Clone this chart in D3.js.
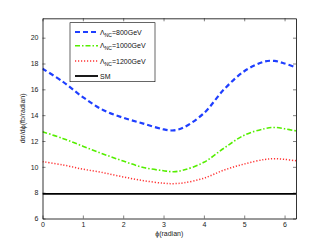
<!DOCTYPE html>
<html>
<head>
<meta charset="utf-8">
<script src="https://cdn.jsdelivr.net/npm/d3@7"></script>
<style>
  body { margin: 0; background: #fff; }
  text { font-family: "Liberation Sans", Arial, sans-serif; }
</style>
</head>
<body>
<div id="chart"></div>
<script>
var phi = [0, 0.5, 1, 1.5, 2, 2.5, 3, 3.25, 3.5, 4, 4.5, 5, 5.5, 5.75, 6, 6.283];
var nc800 = [17.6, 16.6, 15.4, 14.4, 13.8, 13.35, 12.9, 12.82, 13.05, 14.15, 16.0, 17.4, 18.15, 18.2, 18.0, 17.7];
var nc1000 = [12.72, 12.2, 11.6, 11.0, 10.45, 9.95, 9.7, 9.62, 9.75, 10.35, 11.45, 12.45, 12.95, 13.05, 12.95, 12.78];
var nc1200 = [10.4, 10.15, 9.82, 9.55, 9.22, 8.93, 8.73, 8.7, 8.76, 9.12, 9.75, 10.22, 10.57, 10.63, 10.58, 10.47];
var sm = [7.9, 7.9, 7.9, 7.9, 7.9, 7.9, 7.9, 7.9, 7.9, 7.9, 7.9, 7.9, 7.9, 7.9, 7.9, 7.9];
var xTicks = [0, 1, 2, 3, 4, 5, 6];
var yTicks = [6, 8, 10, 12, 14, 16, 18, 20];

var series = [
  {name: "800GeV", values: nc800, color: "#1f3fff", dash: "5,3", width: 2.2, nc: true},
  {name: "1000GeV", values: nc1000, color: "#55ee00", dash: "5,2,1.5,2", width: 1.6, nc: true},
  {name: "1200GeV", values: nc1200, color: "#ff3333", dash: "1.2,1.8", width: 1.5, nc: true},
  {name: "SM", values: sm, color: "#000", dash: null, width: 1.8, nc: false}
];

var width = 327, height = 246;
var mLeft = 42.5, mRight = 296, mTop = 18.3, mBottom = 218.5;

var x = d3.scaleLinear().domain([0, 2 * Math.PI]).range([mLeft, mRight]);
var y = d3.scaleLinear().domain([6, 21.5]).range([mBottom, mTop]);

var svg = d3.select("#chart").append("svg")
  .attr("width", width)
  .attr("height", height);

/* lines */
var line = d3.line()
  .x((d, i) => x(phi[i]))
  .y(d => y(d))
  .curve(d3.curveCatmullRom);

svg.append("defs").append("clipPath").attr("id", "clip")
  .append("rect").attr("x", mLeft).attr("y", mTop)
  .attr("width", mRight - mLeft).attr("height", mBottom - mTop);

svg.append("g").attr("clip-path", "url(#clip)")
  .selectAll("path")
  .data(series).enter()
  .append("path")
  .attr("d", d => line(d.values))
  .attr("fill", "none")
  .attr("stroke", d => d.color)
  .attr("stroke-width", d => d.width)
  .attr("stroke-dasharray", d => d.dash);

/* axes, matlab style: inward ticks on all four sides */
var tick = 3;
var fmt = d3.format("d");
svg.append("g")
  .attr("transform", `translate(0, ${mBottom})`)
  .call(d3.axisBottom(x).tickValues(xTicks).tickSizeInner(-tick).tickSizeOuter(0).tickPadding(4).tickFormat(fmt))
  .call(g => g.selectAll("text").attr("font-size", 7).attr("fill", "#222"));
svg.append("g")
  .attr("transform", `translate(0, ${mTop})`)
  .call(d3.axisTop(x).tickValues(xTicks).tickSizeInner(-tick).tickSizeOuter(0).tickFormat(""));
svg.append("g")
  .attr("transform", `translate(${mLeft}, 0)`)
  .call(d3.axisLeft(y).tickValues(yTicks).tickSizeInner(-tick).tickSizeOuter(0).tickPadding(4).tickFormat(fmt))
  .call(g => g.selectAll("text").attr("font-size", 7).attr("fill", "#222"));
svg.append("g")
  .attr("transform", `translate(${mRight}, 0)`)
  .call(d3.axisRight(y).tickValues(yTicks).tickSizeInner(-tick).tickSizeOuter(0).tickFormat(""));

svg.selectAll(".domain").attr("stroke", "#000").attr("stroke-width", 0.8);
svg.selectAll(".tick line").attr("stroke", "#000").attr("stroke-width", 0.5);

/* axis labels */
svg.append("text")
  .attr("x", (mLeft + mRight) / 2)
  .attr("y", 236)
  .attr("text-anchor", "middle")
  .attr("font-size", 7)
  .attr("fill", "#222")
  .text("\u03d5(radian)");

svg.append("text")
  .attr("transform", `translate(25, ${(mTop + mBottom) / 2}) rotate(-90)`)
  .attr("text-anchor", "middle")
  .attr("font-size", 7)
  .attr("fill", "#222")
  .text("d\u03c3/d\u03d5(fb/radian)");

/* legend */
var legend = svg.append("g");
legend.append("rect")
  .attr("x", 70).attr("y", 22.7)
  .attr("width", 85).attr("height", 59)
  .attr("fill", "#fff")
  .attr("stroke", "#000")
  .attr("stroke-width", 0.6);

var rowY = [32, 45.7, 61, 76];
var items = legend.selectAll(".item")
  .data(series).enter()
  .append("g")
  .attr("transform", (d, i) => `translate(0, ${rowY[i]})`);

items.append("line")
  .attr("x1", 75).attr("x2", 98)
  .attr("stroke", d => d.color)
  .attr("stroke-width", d => d.width)
  .attr("stroke-dasharray", d => d.dash);

var txt = items.append("text")
  .attr("x", 100)
  .attr("y", 2.5)
  .attr("font-size", 7)
  .attr("fill", "#111");

txt.filter(d => d.nc).each(function(d) {
  var t = d3.select(this);
  t.append("tspan").text("\u039b");
  t.append("tspan").attr("dy", 2).attr("font-size", 5).text("NC");
  t.append("tspan").attr("dy", -2).text("=" + d.name);
});
txt.filter(d => !d.nc).text(d => d.name);
</script>
</body>
</html>
